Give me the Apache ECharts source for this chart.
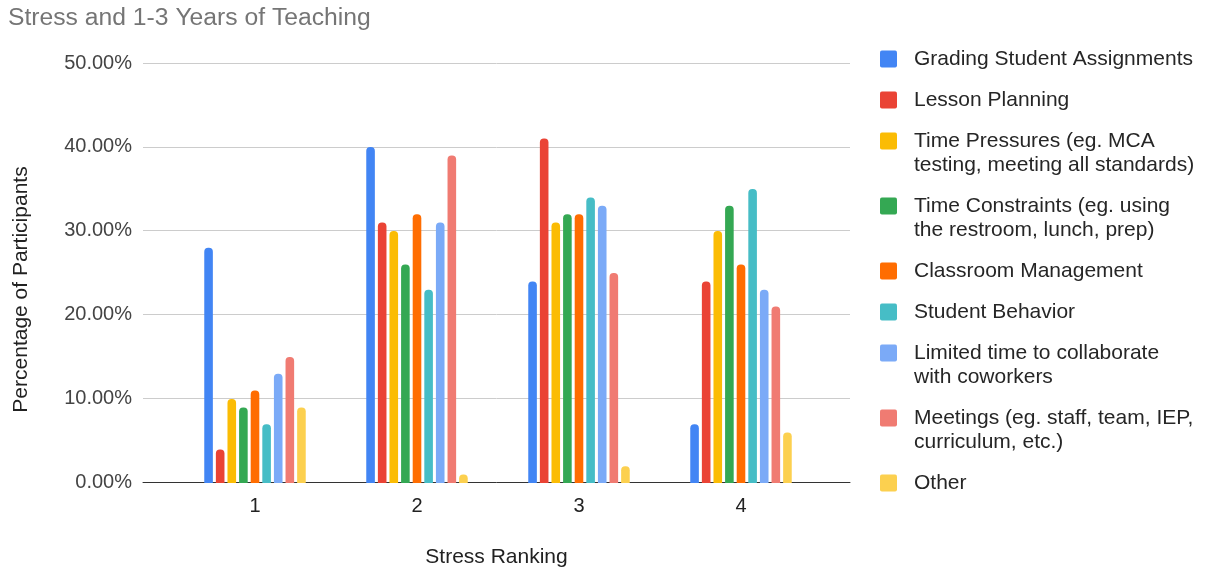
<!DOCTYPE html>
<html>
<head>
<meta charset="utf-8">
<script src="https://cdn.jsdelivr.net/npm/echarts@6/dist/echarts.min.js"></script>
<style>
  html, body { margin: 0; padding: 0; background: #fff; }
  #chart { width: 1209px; height: 573px; }
</style>
</head>
<body>
<div id="chart"></div>
<script>
// Stress ranking categories (x axis)
const categories = ['1', '2', '3', '4'];

// Legend labels, one per series (line breaks as they wrap in the legend)
const seriesNames = [
  'Grading Student Assignments',
  'Lesson Planning',
  'Time Pressures (eg. MCA\ntesting, meeting all standards)',
  'Time Constraints (eg. using\nthe restroom, lunch, prep)',
  'Classroom Management',
  'Student Behavior',
  'Limited time to collaborate\nwith coworkers',
  'Meetings (eg. staff, team, IEP,\ncurriculum, etc.)',
  'Other'
];

// Percentage of participants per stress ranking
const grading        = [28, 40, 24, 7];
const lessonPlanning = [4, 31, 41, 24];
const timePressures  = [10, 30, 31, 30];
const timeConstraint = [9, 26, 32, 33];
const classroomMgmt  = [11, 32, 32, 26];
const behavior       = [7, 23, 34, 35];
const collaborate    = [13, 31, 33, 23];
const meetings       = [15, 39, 25, 21];
const other          = [9, 1, 2, 6];

const seriesValues = [grading, lessonPlanning, timePressures, timeConstraint,
  classroomMgmt, behavior, collaborate, meetings, other];

// Y axis ticks
const yTicks = [0, 10, 20, 30, 40, 50];

const colors = ['#4285F4', '#EA4335', '#FBBC04', '#34A853', '#FF6D01',
  '#46BDC6', '#7BAAF7', '#F07B72', '#FCD04F'];

const chart = echarts.init(document.getElementById('chart'), null, { renderer: 'canvas' });

const font = 'Arial, "Liberation Sans", sans-serif';
const legendFont = 21;
const legendLine = 24;
// small square with slightly rounded corners
const legendIcon = 'path://M2,0 H16 Q18,0 18,2 V16 Q18,18 16,18 H2 Q0,18 0,16 V2 Q0,0 2,0 Z';

// One legend block per series so wrapped labels keep their icon on the first line:
// blank lines are prepended so the first text line sits at the icon's centre.
const legends = [];
let centerY = 59;
seriesNames.forEach((name) => {
  const lines = name.split('\n').length;
  const extra = (lines - 1) * legendLine;
  legends.push({
    data: [name],
    orient: 'vertical',
    left: 880,
    top: centerY - legendLine / 2 - extra,
    padding: 0,
    itemWidth: 17,
    itemHeight: 17,
    icon: legendIcon,
    selectedMode: false,
    formatter: n => '\n'.repeat(lines - 1) + n,
    textStyle: {
      fontFamily: font,
      fontSize: legendFont,
      lineHeight: legendLine,
      color: '#262626',
      padding: [0, 0, 0, 12]
    }
  });
  centerY += 41 + extra;
});

const option = {
  animation: false,
  color: colors,
  textStyle: { fontFamily: font },
  title: {
    text: 'Stress and 1-3 Years of Teaching',
    left: 3,
    top: 1,
    textStyle: { fontFamily: font, fontSize: 24.7, fontWeight: 'normal', color: '#757575' }
  },
  legend: legends,
  grid: [
    { left: 143, right: 359, top: 63, bottom: 90 },
    { left: 174, right: 387, top: 63, bottom: 90 }
  ],
  xAxis: [
    {
      gridIndex: 0,
      type: 'value',
      min: 0, max: 1,
      axisLine: { show: true, lineStyle: { color: '#333', width: 1 } },
      axisTick: { show: false },
      axisLabel: { show: false },
      splitLine: { show: false },
      name: 'Stress Ranking',
      nameLocation: 'middle',
      nameGap: 65,
      nameTextStyle: { fontFamily: font, fontSize: 21, color: '#222' }
    },
    {
      gridIndex: 1,
      type: 'category',
      data: categories,
      axisLine: { show: false },
      axisTick: { show: false },
      axisLabel: { fontFamily: font, fontSize: 20, color: '#222', margin: 13 }
    }
  ],
  yAxis: [
    {
      gridIndex: 0,
      type: 'value',
      min: yTicks[0],
      max: yTicks[yTicks.length - 1],
      interval: 10,
      axisLine: { show: false },
      axisTick: { show: false },
      axisLabel: {
        fontFamily: font, fontSize: 20, color: '#444', margin: 11,
        formatter: v => v.toFixed(2) + '%'
      },
      splitLine: { lineStyle: { color: '#ccc', width: 1 } },
      name: 'Percentage of Participants',
      nameLocation: 'middle',
      nameGap: 111,
      nameRotate: 90,
      nameTextStyle: { fontFamily: font, fontSize: 21, color: '#222', padding: [0, 34, 0, 0] }
    },
    {
      gridIndex: 1,
      type: 'value',
      min: yTicks[0],
      max: yTicks[yTicks.length - 1],
      show: false
    }
  ],
  series: seriesNames.map((name, i) => ({
    name: name,
    type: 'bar',
    xAxisIndex: 1,
    yAxisIndex: 1,
    data: seriesValues[i],
    barWidth: 8.6,
    barGap: '35%',
    itemStyle: { color: colors[i], borderRadius: [4, 4, 0, 0] }
  }))
};

chart.setOption(option);
</script>
</body>
</html>
